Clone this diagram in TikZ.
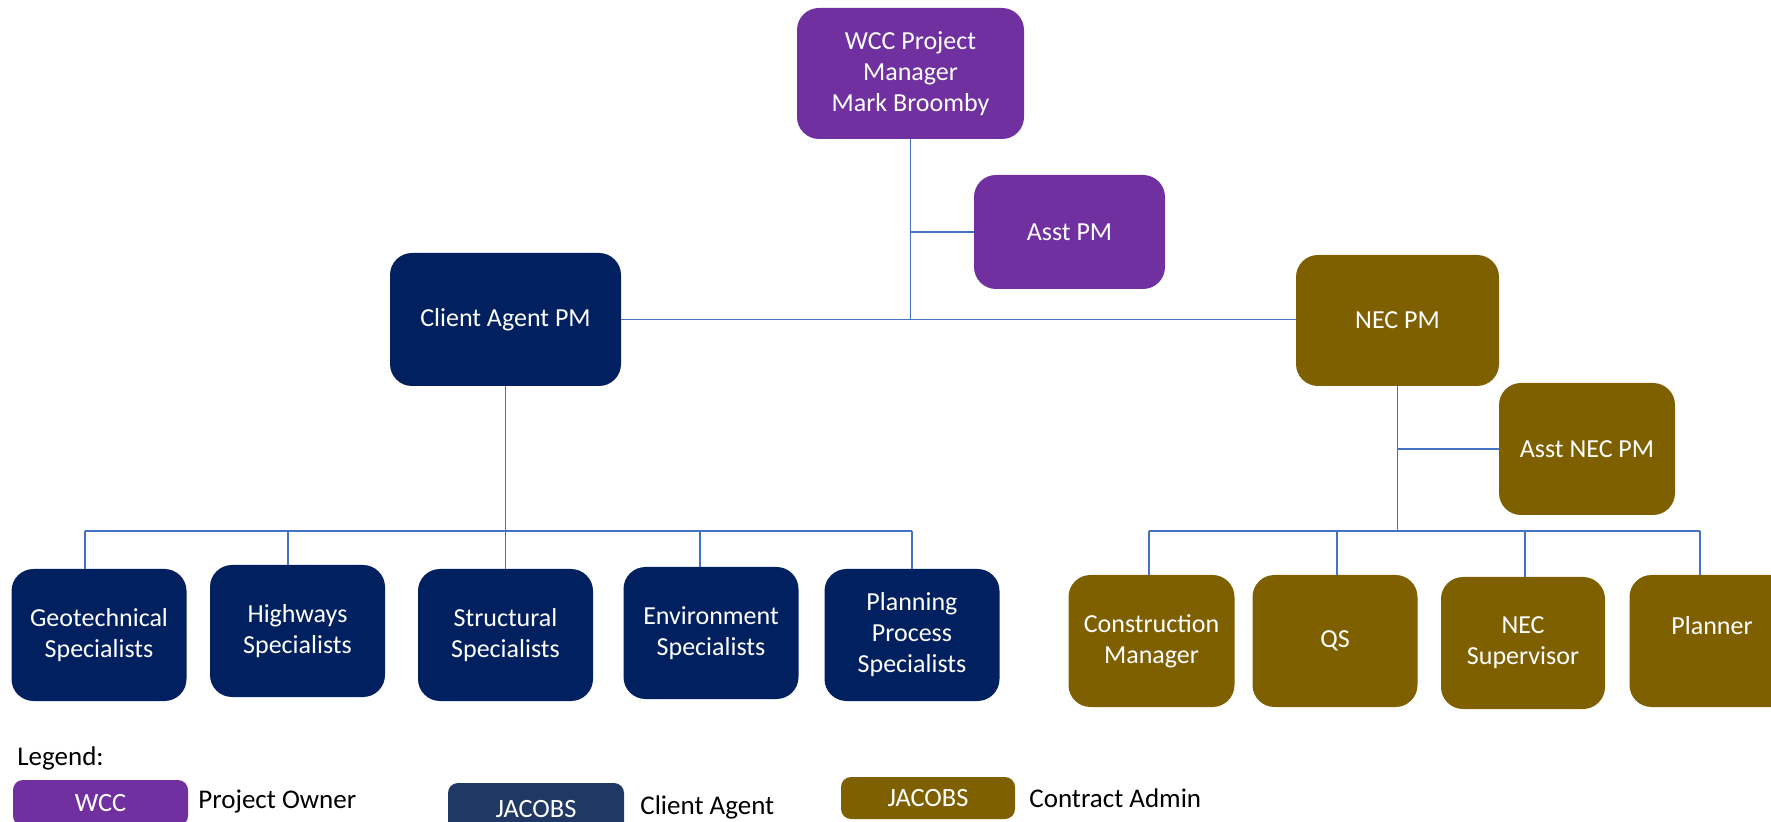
\documentclass[tikz,border=0pt]{standalone}
\usepackage{fontspec}
\setmainfont{Carlito}
\definecolor{owner}{HTML}{7030A0}
\definecolor{agent}{HTML}{002060}
\definecolor{agentkey}{HTML}{203864}
\definecolor{admin}{HTML}{7F6000}
\definecolor{link}{HTML}{4472C4}
\tikzset{
  sz/.style 2 args={minimum width=#1*0.5pt, minimum height=#2*0.5pt},
  card/.style={rounded corners=11pt, text=white, align=center, inner sep=0pt,
    font=\fontsize{13}{15.5}\selectfont},
  ownerbox/.style={card, fill=owner},
  agentbox/.style={card, fill=agent},
  adminbox/.style={card, fill=admin},
  keybox/.style={rounded corners=5pt, text=white, inner sep=0pt,
    font=\fontsize{13.2}{15}\selectfont},
  keytext/.style={anchor=west, inner sep=0pt, font=\fontsize{13.5}{15}\selectfont},
  wire/.style={draw=link, line width=0.8pt},
}
\begin{document}
\begin{tikzpicture}[x=0.5pt, y=-0.5pt]
\useasboundingbox (0,0) rectangle (1771,822);
\clip (0,0) rectangle (1771,822);

% top of the chart
\node[ownerbox, sz={227}{131}] (top) at (910.5,73.5) {WCC Project\\Manager\\Mark Broomby};
\node[ownerbox, sz={191}{114}] (asst) at (1069.5,232) {Asst PM};
\node[agentbox, sz={231}{133}] (ca) at (505.5,319.5) {Client Agent PM};
\node[adminbox, sz={203}{131}] (nec) at (1397.5,320.5) {NEC PM};
\node[adminbox, sz={176}{132}] (anec) at (1587,449) {Asst NEC PM};

% client agent specialists
\node[agentbox, sz={175}{132}] (geo) at (99,635) {Geotechnical\\Specialists};
\node[agentbox, sz={175}{132}] (hw) at (297.5,631) {Highways\\Specialists};
\node[agentbox, sz={175}{132}] (st) at (505.5,635) {Structural\\Specialists};
\node[agentbox, sz={175}{132}] (env) at (711,633) {Environment\\Specialists};
\node[agentbox, sz={175}{132}] (pps) at (912,635) {Planning\\Process\\Specialists};

% contract admin team
\node[adminbox, sz={166}{132}] (cm) at (1151.5,641) {Construction\\Manager};
\node[adminbox, sz={165}{132}] (qs) at (1335,641) {QS};
\node[adminbox, sz={164}{132}] (sup) at (1523,643) {NEC\\Supervisor};
\node[adminbox, sz={165}{132}] (pl) at (1712,641) {Planner\\\mbox{}};

% connectors
\draw[wire] (top.south) -- (top.south |- ca.east);
\draw[wire] (asst.west) -- (asst.west -| top.south);
\draw[wire] (ca.east) -- (ca.east -| nec.west);

\coordinate (lbus) at (505.5,531);
\coordinate (lgeo) at (84.7,531);
\coordinate (lhw) at (288,531);
\coordinate (lenv) at (700,531);
\coordinate (lpps) at (912,531);
\draw[wire] (ca.south) -- (lbus);
\draw[wire] (lgeo) -- (lpps);
\draw[wire] (lgeo) -- (lgeo |- geo.north);
\draw[wire] (lhw) -- (lhw |- hw.north);
\draw[wire] (lbus) -- (st.north);
\draw[wire] (lenv) -- (lenv |- env.north);
\draw[wire] (lpps) -- (pps.north);

\coordinate (rbus) at (1397.5,531);
\coordinate (rcm) at (1148.7,531);
\coordinate (rqs) at (1337,531);
\coordinate (rsup) at (1525,531);
\coordinate (rpl) at (1700,531);
\draw[wire] (nec.south) -- (rbus);
\draw[wire] (anec.west) -- (anec.west -| nec.south);
\draw[wire] (rcm) -- (rpl);
\draw[wire] (rcm) -- (rcm |- cm.north);
\draw[wire] (rqs) -- (rqs |- qs.north);
\draw[wire] (rsup) -- (rsup |- sup.north);
\draw[wire] (rpl) -- (rpl |- pl.north);

% legend
\node[keytext] (legend) at (17,758) {Legend:};
\node[keybox, fill=owner, sz={175}{46}] (kowner) at (100.5,803) {WCC};
\node[keytext] (towner) at (198,802) {Project Owner};
\node[keybox, fill=agentkey, sz={176}{52}] (kagent) at (536,809) {JACOBS};
\node[keytext] (tagent) at (640,807) {Client Agent};
\node[keybox, fill=admin, sz={174}{42}] (kadmin) at (928,798) {JACOBS};
\node[keytext] (tadmin) at (1029,798) {Contract Admin};
\end{tikzpicture}
\end{document}
